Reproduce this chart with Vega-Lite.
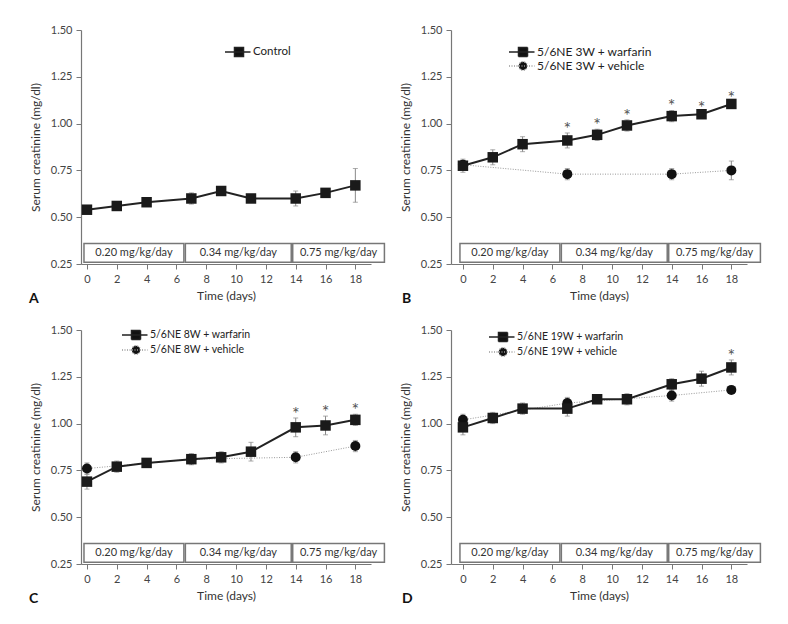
{
  "$schema": "https://vega.github.io/schema/vega-lite/v6.json",
  "background": "white",
  "padding": {"left": 29, "top": 24, "right": 5, "bottom": 5},
  "config": {
    "view": {"stroke": null},
    "font": "Lato",
    "axis": {"domainColor": "#777", "tickColor": "#777", "labelColor": "#444", "titleColor": "#333", "labelFont": "Lato", "titleFont": "Lato", "labelFontSize": 11, "titleFontSize": 12, "titleFontWeight": "normal", "grid": false, "labelPadding": 4, "domainWidth": 1.2, "tickWidth": 1, "tickSize": 5, "labelOverlap": false},
    "axisQuantitative": {"labelOverlap": false},
    "axisY": {"titlePadding": 8},
    "axisX": {"titlePadding": 6},
    "legend": {"title": null, "orient": "none", "symbolSize": 100, "labelOffset": 8, "labelFont": "Lato", "labelColor": "#222", "padding": 0, "symbolOpacity": 1},
    "title": {"font": "Lato", "fontSize": 14, "fontWeight": "bold", "color": "#111"}
  },
  "datasets": {
    "doses": [
      {"start": -0.2, "end": 6.5, "mid": 3.15, "label": "0.20 mg/kg/day"},
      {"start": 6.6, "end": 13.7, "mid": 10.15, "label": "0.34 mg/kg/day"},
      {"start": 13.8, "end": 19.95, "mid": 16.875, "label": "0.75 mg/kg/day"}
    ],
    "pA": [
      {"series": "Control", "kind": "main", "day": 0, "mean": 0.54, "lo": 0.53, "hi": 0.55, "sig": false},
      {"series": "Control", "kind": "main", "day": 2, "mean": 0.56, "lo": 0.55, "hi": 0.57, "sig": false},
      {"series": "Control", "kind": "main", "day": 4, "mean": 0.58, "lo": 0.57, "hi": 0.59, "sig": false},
      {"series": "Control", "kind": "main", "day": 7, "mean": 0.60, "lo": 0.57, "hi": 0.63, "sig": false},
      {"series": "Control", "kind": "main", "day": 9, "mean": 0.64, "lo": 0.63, "hi": 0.65, "sig": false},
      {"series": "Control", "kind": "main", "day": 11, "mean": 0.60, "lo": 0.59, "hi": 0.61, "sig": false},
      {"series": "Control", "kind": "main", "day": 14, "mean": 0.60, "lo": 0.56, "hi": 0.64, "sig": false},
      {"series": "Control", "kind": "main", "day": 16, "mean": 0.63, "lo": 0.62, "hi": 0.64, "sig": false},
      {"series": "Control", "kind": "main", "day": 18, "mean": 0.67, "lo": 0.58, "hi": 0.76, "sig": false}
    ],
    "pB": [
      {"series": "5/6NE 3W + warfarin", "kind": "main", "day": 0, "mean": 0.775, "lo": 0.74, "hi": 0.81, "sig": false},
      {"series": "5/6NE 3W + warfarin", "kind": "main", "day": 2, "mean": 0.82, "lo": 0.78, "hi": 0.86, "sig": false},
      {"series": "5/6NE 3W + warfarin", "kind": "main", "day": 4, "mean": 0.89, "lo": 0.85, "hi": 0.93, "sig": false},
      {"series": "5/6NE 3W + warfarin", "kind": "main", "day": 7, "mean": 0.91, "lo": 0.87, "hi": 0.95, "sig": true},
      {"series": "5/6NE 3W + warfarin", "kind": "main", "day": 9, "mean": 0.94, "lo": 0.91, "hi": 0.97, "sig": true},
      {"series": "5/6NE 3W + warfarin", "kind": "main", "day": 11, "mean": 0.99, "lo": 0.96, "hi": 1.02, "sig": true},
      {"series": "5/6NE 3W + warfarin", "kind": "main", "day": 14, "mean": 1.04, "lo": 1.01, "hi": 1.07, "sig": true},
      {"series": "5/6NE 3W + warfarin", "kind": "main", "day": 16, "mean": 1.05, "lo": 1.04, "hi": 1.06, "sig": true},
      {"series": "5/6NE 3W + warfarin", "kind": "main", "day": 18, "mean": 1.105, "lo": 1.095, "hi": 1.115, "sig": true},
      {"series": "5/6NE 3W + vehicle", "kind": "vehicle", "day": 0, "mean": 0.78, "lo": 0.76, "hi": 0.80, "sig": false},
      {"series": "5/6NE 3W + vehicle", "kind": "vehicle", "day": 7, "mean": 0.73, "lo": 0.70, "hi": 0.76, "sig": false},
      {"series": "5/6NE 3W + vehicle", "kind": "vehicle", "day": 14, "mean": 0.73, "lo": 0.70, "hi": 0.76, "sig": false},
      {"series": "5/6NE 3W + vehicle", "kind": "vehicle", "day": 18, "mean": 0.75, "lo": 0.70, "hi": 0.80, "sig": false}
    ],
    "pC": [
      {"series": "5/6NE 8W + warfarin", "kind": "main", "day": 0, "mean": 0.69, "lo": 0.65, "hi": 0.73, "sig": false},
      {"series": "5/6NE 8W + warfarin", "kind": "main", "day": 2, "mean": 0.77, "lo": 0.74, "hi": 0.80, "sig": false},
      {"series": "5/6NE 8W + warfarin", "kind": "main", "day": 4, "mean": 0.79, "lo": 0.78, "hi": 0.80, "sig": false},
      {"series": "5/6NE 8W + warfarin", "kind": "main", "day": 7, "mean": 0.81, "lo": 0.78, "hi": 0.84, "sig": false},
      {"series": "5/6NE 8W + warfarin", "kind": "main", "day": 9, "mean": 0.82, "lo": 0.79, "hi": 0.85, "sig": false},
      {"series": "5/6NE 8W + warfarin", "kind": "main", "day": 11, "mean": 0.85, "lo": 0.80, "hi": 0.90, "sig": false},
      {"series": "5/6NE 8W + warfarin", "kind": "main", "day": 14, "mean": 0.98, "lo": 0.93, "hi": 1.03, "sig": true},
      {"series": "5/6NE 8W + warfarin", "kind": "main", "day": 16, "mean": 0.99, "lo": 0.94, "hi": 1.04, "sig": true},
      {"series": "5/6NE 8W + warfarin", "kind": "main", "day": 18, "mean": 1.02, "lo": 0.99, "hi": 1.05, "sig": true},
      {"series": "5/6NE 8W + vehicle", "kind": "vehicle", "day": 0, "mean": 0.76, "lo": 0.73, "hi": 0.79, "sig": false},
      {"series": "5/6NE 8W + vehicle", "kind": "vehicle", "day": 7, "mean": 0.81, "lo": 0.79, "hi": 0.83, "sig": false},
      {"series": "5/6NE 8W + vehicle", "kind": "vehicle", "day": 14, "mean": 0.82, "lo": 0.79, "hi": 0.85, "sig": false},
      {"series": "5/6NE 8W + vehicle", "kind": "vehicle", "day": 18, "mean": 0.88, "lo": 0.85, "hi": 0.91, "sig": false}
    ],
    "pD": [
      {"series": "5/6NE 19W + warfarin", "kind": "main", "day": 0, "mean": 0.98, "lo": 0.94, "hi": 1.02, "sig": false},
      {"series": "5/6NE 19W + warfarin", "kind": "main", "day": 2, "mean": 1.03, "lo": 1.00, "hi": 1.06, "sig": false},
      {"series": "5/6NE 19W + warfarin", "kind": "main", "day": 4, "mean": 1.08, "lo": 1.05, "hi": 1.11, "sig": false},
      {"series": "5/6NE 19W + warfarin", "kind": "main", "day": 7, "mean": 1.08, "lo": 1.04, "hi": 1.12, "sig": false},
      {"series": "5/6NE 19W + warfarin", "kind": "main", "day": 9, "mean": 1.13, "lo": 1.12, "hi": 1.14, "sig": false},
      {"series": "5/6NE 19W + warfarin", "kind": "main", "day": 11, "mean": 1.13, "lo": 1.10, "hi": 1.16, "sig": false},
      {"series": "5/6NE 19W + warfarin", "kind": "main", "day": 14, "mean": 1.21, "lo": 1.18, "hi": 1.24, "sig": false},
      {"series": "5/6NE 19W + warfarin", "kind": "main", "day": 16, "mean": 1.24, "lo": 1.20, "hi": 1.28, "sig": false},
      {"series": "5/6NE 19W + warfarin", "kind": "main", "day": 18, "mean": 1.30, "lo": 1.26, "hi": 1.34, "sig": true},
      {"series": "5/6NE 19W + vehicle", "kind": "vehicle", "day": 0, "mean": 1.02, "lo": 0.99, "hi": 1.05, "sig": false},
      {"series": "5/6NE 19W + vehicle", "kind": "vehicle", "day": 7, "mean": 1.11, "lo": 1.08, "hi": 1.14, "sig": false},
      {"series": "5/6NE 19W + vehicle", "kind": "vehicle", "day": 14, "mean": 1.15, "lo": 1.12, "hi": 1.18, "sig": false},
      {"series": "5/6NE 19W + vehicle", "kind": "vehicle", "day": 18, "mean": 1.18, "lo": 1.165, "hi": 1.195, "sig": false}
    ]
  },
  "columns": 2,
  "spacing": {"row": 66, "column": 80},
  "bounds": "flush",
  "resolve": {"scale": {"shape": "independent", "fill": "independent", "stroke": "independent", "strokeDash": "independent"}, "legend": {"shape": "independent", "fill": "independent", "stroke": "independent", "strokeDash": "independent"}},
  "concat": [
    {
      "width": 290, "height": 234,
      "title": {"text": "A", "orient": "bottom", "anchor": "start", "frame": "group", "dx": -52, "offset": -9},
      "layer": [
        {"data": {"name": "doses"}, "mark": {"type": "rect", "fill": "white", "stroke": "#777", "strokeWidth": 1.5, "clip": false},
         "encoding": {
           "x": {"field": "start", "type": "quantitative", "scale": {"domain": [-0.4, 19.05], "nice": false, "zero": false}, "axis": {"title": "Time (days)", "values": [0,2,4,6,8,10,12,14,16,18], "labelOverlap": false, "format": "d"}},
           "x2": {"field": "end"},
           "y": {"datum": 0.26, "type": "quantitative", "scale": {"domain": [0.25, 1.5], "nice": false, "zero": false}, "axis": {"title": "Serum creatinine (mg/dl)", "values": [0.25,0.5,0.75,1,1.25,1.5], "labelOverlap": false, "format": ".2f"}},
           "y2": {"datum": 0.36}}},
        {"data": {"name": "doses"}, "mark": {"type": "text", "fontSize": 11, "fill": "#333", "baseline": "middle"},
         "encoding": {
           "x": {"field": "mid", "type": "quantitative", "scale": {"domain": [-0.4, 19.05], "nice": false, "zero": false}, "axis": {"title": "Time (days)", "values": [0,2,4,6,8,10,12,14,16,18], "labelOverlap": false, "format": "d"}},
           "y": {"datum": 0.31, "type": "quantitative", "scale": {"domain": [0.25, 1.5], "nice": false, "zero": false}, "axis": {"title": "Serum creatinine (mg/dl)", "values": [0.25,0.5,0.75,1,1.25,1.5], "labelOverlap": false, "format": ".2f"}},
           "text": {"field": "label"}}},
        {"data": {"name": "pA"}, "mark": {"type": "errorbar", "ticks": true, "color": "#888"},
         "encoding": {
           "x": {"field": "day", "type": "quantitative", "scale": {"domain": [-0.4, 19.05], "nice": false, "zero": false}, "axis": {"title": "Time (days)", "values": [0,2,4,6,8,10,12,14,16,18], "labelOverlap": false, "format": "d"}},
           "y": {"field": "lo", "type": "quantitative", "scale": {"domain": [0.25, 1.5], "nice": false, "zero": false}, "axis": {"title": "Serum creatinine (mg/dl)", "values": [0.25,0.5,0.75,1,1.25,1.5], "labelOverlap": false, "format": ".2f"}},
           "y2": {"field": "hi"}}},
        {"data": {"name": "pA"}, "mark": {"type": "line", "color": "#222", "strokeWidth": 2},
         "encoding": {
           "x": {"field": "day", "type": "quantitative", "scale": {"domain": [-0.4, 19.05], "nice": false, "zero": false}, "axis": {"title": "Time (days)", "values": [0,2,4,6,8,10,12,14,16,18], "labelOverlap": false, "format": "d"}},
           "y": {"field": "mean", "type": "quantitative", "scale": {"domain": [0.25, 1.5], "nice": false, "zero": false}, "axis": {"title": "Serum creatinine (mg/dl)", "values": [0.25,0.5,0.75,1,1.25,1.5], "labelOverlap": false, "format": ".2f"}}}},
        {"data": {"name": "pA"}, "mark": {"type": "point", "shape": "square", "filled": true, "size": 110, "color": "#1a1a1a", "opacity": 1},
         "encoding": {
           "x": {"field": "day", "type": "quantitative", "scale": {"domain": [-0.4, 19.05], "nice": false, "zero": false}, "axis": {"title": "Time (days)", "values": [0,2,4,6,8,10,12,14,16,18], "labelOverlap": false, "format": "d"}},
           "y": {"field": "mean", "type": "quantitative", "scale": {"domain": [0.25, 1.5], "nice": false, "zero": false}, "axis": {"title": "Serum creatinine (mg/dl)", "values": [0.25,0.5,0.75,1,1.25,1.5], "labelOverlap": false, "format": ".2f"}}}},
        {"data": {"name": "pA"}, "transform": [{"filter": "false"}],
         "mark": {"type": "point", "filled": true, "strokeWidth": 2},
         "encoding": {
           "x": {"field": "day", "type": "quantitative", "scale": {"domain": [-0.4, 19.05], "nice": false, "zero": false}, "axis": {"title": "Time (days)", "values": [0,2,4,6,8,10,12,14,16,18], "labelOverlap": false, "format": "d"}},
           "y": {"field": "mean", "type": "quantitative", "scale": {"domain": [0.25, 1.5], "nice": false, "zero": false}, "axis": {"title": "Serum creatinine (mg/dl)", "values": [0.25,0.5,0.75,1,1.25,1.5], "labelOverlap": false, "format": ".2f"}},
           "shape": {"field": "series", "type": "nominal", "scale": {"domain": ["Control"], "range": ["M-2.8,0H2.3M-0.9,-0.9H0.9V0.9H-0.9Z"]},
             "legend": {"legendX": 152, "legendY": 16, "labelFontSize": 11.5, "rowPadding": 1}},
           "fill": {"field": "series", "type": "nominal", "scale": {"domain": ["Control"], "range": ["#111"]}},
           "stroke": {"field": "series", "type": "nominal", "scale": {"domain": ["Control"], "range": ["#222"]}}}}
      ]
    },
    {
      "width": 296, "height": 234,
      "title": {"text": "B", "orient": "bottom", "anchor": "start", "frame": "group", "dx": -49, "offset": -9},
      "layer": [
        {"data": {"name": "doses"}, "mark": {"type": "rect", "fill": "white", "stroke": "#777", "strokeWidth": 1.5, "clip": false},
         "encoding": {
           "x": {"field": "start", "type": "quantitative", "scale": {"domain": [-0.8, 19.05], "nice": false, "zero": false}, "axis": {"title": "Time (days)", "values": [0,2,4,6,8,10,12,14,16,18], "labelOverlap": false, "format": "d"}},
           "x2": {"field": "end"},
           "y": {"datum": 0.26, "type": "quantitative", "scale": {"domain": [0.25, 1.5], "nice": false, "zero": false}, "axis": {"title": "Serum creatinine (mg/dl)", "values": [0.25,0.5,0.75,1,1.25,1.5], "labelOverlap": false, "format": ".2f"}},
           "y2": {"datum": 0.36}}},
        {"data": {"name": "doses"}, "mark": {"type": "text", "fontSize": 11, "fill": "#333", "baseline": "middle"},
         "encoding": {
           "x": {"field": "mid", "type": "quantitative", "scale": {"domain": [-0.8, 19.05], "nice": false, "zero": false}, "axis": {"title": "Time (days)", "values": [0,2,4,6,8,10,12,14,16,18], "labelOverlap": false, "format": "d"}},
           "y": {"datum": 0.31, "type": "quantitative", "scale": {"domain": [0.25, 1.5], "nice": false, "zero": false}, "axis": {"title": "Serum creatinine (mg/dl)", "values": [0.25,0.5,0.75,1,1.25,1.5], "labelOverlap": false, "format": ".2f"}},
           "text": {"field": "label"}}},
        {"data": {"name": "pB"}, "mark": {"type": "errorbar", "ticks": true, "color": "#888"},
         "encoding": {
           "x": {"field": "day", "type": "quantitative", "scale": {"domain": [-0.8, 19.05], "nice": false, "zero": false}, "axis": {"title": "Time (days)", "values": [0,2,4,6,8,10,12,14,16,18], "labelOverlap": false, "format": "d"}},
           "y": {"field": "lo", "type": "quantitative", "scale": {"domain": [0.25, 1.5], "nice": false, "zero": false}, "axis": {"title": "Serum creatinine (mg/dl)", "values": [0.25,0.5,0.75,1,1.25,1.5], "labelOverlap": false, "format": ".2f"}},
           "y2": {"field": "hi"}}},
        {"data": {"name": "pB"}, "transform": [{"filter": "datum.kind == 'vehicle'"}], "mark": {"type": "line", "color": "#999", "strokeWidth": 1, "strokeDash": [1, 1.5]},
         "encoding": {
           "x": {"field": "day", "type": "quantitative", "scale": {"domain": [-0.8, 19.05], "nice": false, "zero": false}, "axis": {"title": "Time (days)", "values": [0,2,4,6,8,10,12,14,16,18], "labelOverlap": false, "format": "d"}},
           "y": {"field": "mean", "type": "quantitative", "scale": {"domain": [0.25, 1.5], "nice": false, "zero": false}, "axis": {"title": "Serum creatinine (mg/dl)", "values": [0.25,0.5,0.75,1,1.25,1.5], "labelOverlap": false, "format": ".2f"}}}},
        {"data": {"name": "pB"}, "transform": [{"filter": "datum.kind == 'vehicle'"}],
         "mark": {"type": "point", "shape": "circle", "filled": true, "size": 100, "color": "#111", "opacity": 1},
         "encoding": {
           "x": {"field": "day", "type": "quantitative", "scale": {"domain": [-0.8, 19.05], "nice": false, "zero": false}, "axis": {"title": "Time (days)", "values": [0,2,4,6,8,10,12,14,16,18], "labelOverlap": false, "format": "d"}},
           "y": {"field": "mean", "type": "quantitative", "scale": {"domain": [0.25, 1.5], "nice": false, "zero": false}, "axis": {"title": "Serum creatinine (mg/dl)", "values": [0.25,0.5,0.75,1,1.25,1.5], "labelOverlap": false, "format": ".2f"}}}},
        {"data": {"name": "pB"}, "transform": [{"filter": "datum.kind == 'main'"}], "mark": {"type": "line", "color": "#222", "strokeWidth": 2},
         "encoding": {
           "x": {"field": "day", "type": "quantitative", "scale": {"domain": [-0.8, 19.05], "nice": false, "zero": false}, "axis": {"title": "Time (days)", "values": [0,2,4,6,8,10,12,14,16,18], "labelOverlap": false, "format": "d"}},
           "y": {"field": "mean", "type": "quantitative", "scale": {"domain": [0.25, 1.5], "nice": false, "zero": false}, "axis": {"title": "Serum creatinine (mg/dl)", "values": [0.25,0.5,0.75,1,1.25,1.5], "labelOverlap": false, "format": ".2f"}}}},
        {"data": {"name": "pB"}, "transform": [{"filter": "datum.kind == 'main'"}],
         "mark": {"type": "point", "shape": "square", "filled": true, "size": 110, "color": "#1a1a1a", "opacity": 1},
         "encoding": {
           "x": {"field": "day", "type": "quantitative", "scale": {"domain": [-0.8, 19.05], "nice": false, "zero": false}, "axis": {"title": "Time (days)", "values": [0,2,4,6,8,10,12,14,16,18], "labelOverlap": false, "format": "d"}},
           "y": {"field": "mean", "type": "quantitative", "scale": {"domain": [0.25, 1.5], "nice": false, "zero": false}, "axis": {"title": "Serum creatinine (mg/dl)", "values": [0.25,0.5,0.75,1,1.25,1.5], "labelOverlap": false, "format": ".2f"}}}},
        {"data": {"name": "pB"}, "transform": [{"filter": "datum.sig"}],
         "mark": {"type": "text", "text": "*", "fontSize": 18, "fill": "#555", "baseline": "alphabetic", "dy": 2},
         "encoding": {
           "x": {"field": "day", "type": "quantitative", "scale": {"domain": [-0.8, 19.05], "nice": false, "zero": false}, "axis": {"title": "Time (days)", "values": [0,2,4,6,8,10,12,14,16,18], "labelOverlap": false, "format": "d"}},
           "y": {"field": "hi", "type": "quantitative", "scale": {"domain": [0.25, 1.5], "nice": false, "zero": false}, "axis": {"title": "Serum creatinine (mg/dl)", "values": [0.25,0.5,0.75,1,1.25,1.5], "labelOverlap": false, "format": ".2f"}}}},
        {"data": {"name": "pB"}, "transform": [{"filter": "false"}],
         "mark": {"type": "point", "filled": true, "strokeWidth": 1.5},
         "encoding": {
           "x": {"field": "day", "type": "quantitative", "scale": {"domain": [-0.8, 19.05], "nice": false, "zero": false}, "axis": {"title": "Time (days)", "values": [0,2,4,6,8,10,12,14,16,18], "labelOverlap": false, "format": "d"}},
           "y": {"field": "mean", "type": "quantitative", "scale": {"domain": [0.25, 1.5], "nice": false, "zero": false}, "axis": {"title": "Serum creatinine (mg/dl)", "values": [0.25,0.5,0.75,1,1.25,1.5], "labelOverlap": false, "format": ".2f"}},
           "shape": {"field": "series", "type": "nominal", "scale": {"domain": ["5/6NE 3W + warfarin", "5/6NE 3W + vehicle"], "range": ["M-2.8,0H2.3M-0.9,-0.9H0.9V0.9H-0.9Z", "M-2.8,0H2.3M-0.84,0A0.84,0.84 0 1,1 0.84,0A0.84,0.84 0 1,1 -0.84,0Z"]},
             "legend": {"legendX": 66, "legendY": 16, "labelFontSize": 12, "rowPadding": -3}},
           "fill": {"field": "series", "type": "nominal", "scale": {"domain": ["5/6NE 3W + warfarin", "5/6NE 3W + vehicle"], "range": ["#111", "#111"]}},
           "stroke": {"field": "series", "type": "nominal", "scale": {"domain": ["5/6NE 3W + warfarin", "5/6NE 3W + vehicle"], "range": ["#222", "#999"]}},
           "strokeDash": {"field": "series", "type": "nominal", "scale": {"domain": ["5/6NE 3W + warfarin", "5/6NE 3W + vehicle"], "range": [[1, 0], [1, 1.5]]}}}}
      ]
    },
    {
      "width": 290, "height": 234,
      "title": {"text": "C", "orient": "bottom", "anchor": "start", "frame": "group", "dx": -52, "offset": -9},
      "layer": [
        {"data": {"name": "doses"}, "mark": {"type": "rect", "fill": "white", "stroke": "#777", "strokeWidth": 1.5, "clip": false},
         "encoding": {
           "x": {"field": "start", "type": "quantitative", "scale": {"domain": [-0.4, 19.05], "nice": false, "zero": false}, "axis": {"title": "Time (days)", "values": [0,2,4,6,8,10,12,14,16,18], "labelOverlap": false, "format": "d"}},
           "x2": {"field": "end"},
           "y": {"datum": 0.26, "type": "quantitative", "scale": {"domain": [0.25, 1.5], "nice": false, "zero": false}, "axis": {"title": "Serum creatinine (mg/dl)", "values": [0.25,0.5,0.75,1,1.25,1.5], "labelOverlap": false, "format": ".2f"}},
           "y2": {"datum": 0.36}}},
        {"data": {"name": "doses"}, "mark": {"type": "text", "fontSize": 11, "fill": "#333", "baseline": "middle"},
         "encoding": {
           "x": {"field": "mid", "type": "quantitative", "scale": {"domain": [-0.4, 19.05], "nice": false, "zero": false}, "axis": {"title": "Time (days)", "values": [0,2,4,6,8,10,12,14,16,18], "labelOverlap": false, "format": "d"}},
           "y": {"datum": 0.31, "type": "quantitative", "scale": {"domain": [0.25, 1.5], "nice": false, "zero": false}, "axis": {"title": "Serum creatinine (mg/dl)", "values": [0.25,0.5,0.75,1,1.25,1.5], "labelOverlap": false, "format": ".2f"}},
           "text": {"field": "label"}}},
        {"data": {"name": "pC"}, "mark": {"type": "errorbar", "ticks": true, "color": "#888"},
         "encoding": {
           "x": {"field": "day", "type": "quantitative", "scale": {"domain": [-0.4, 19.05], "nice": false, "zero": false}, "axis": {"title": "Time (days)", "values": [0,2,4,6,8,10,12,14,16,18], "labelOverlap": false, "format": "d"}},
           "y": {"field": "lo", "type": "quantitative", "scale": {"domain": [0.25, 1.5], "nice": false, "zero": false}, "axis": {"title": "Serum creatinine (mg/dl)", "values": [0.25,0.5,0.75,1,1.25,1.5], "labelOverlap": false, "format": ".2f"}},
           "y2": {"field": "hi"}}},
        {"data": {"name": "pC"}, "transform": [{"filter": "datum.kind == 'vehicle'"}], "mark": {"type": "line", "color": "#999", "strokeWidth": 1, "strokeDash": [1, 1.5]},
         "encoding": {
           "x": {"field": "day", "type": "quantitative", "scale": {"domain": [-0.4, 19.05], "nice": false, "zero": false}, "axis": {"title": "Time (days)", "values": [0,2,4,6,8,10,12,14,16,18], "labelOverlap": false, "format": "d"}},
           "y": {"field": "mean", "type": "quantitative", "scale": {"domain": [0.25, 1.5], "nice": false, "zero": false}, "axis": {"title": "Serum creatinine (mg/dl)", "values": [0.25,0.5,0.75,1,1.25,1.5], "labelOverlap": false, "format": ".2f"}}}},
        {"data": {"name": "pC"}, "transform": [{"filter": "datum.kind == 'vehicle'"}],
         "mark": {"type": "point", "shape": "circle", "filled": true, "size": 100, "color": "#111", "opacity": 1},
         "encoding": {
           "x": {"field": "day", "type": "quantitative", "scale": {"domain": [-0.4, 19.05], "nice": false, "zero": false}, "axis": {"title": "Time (days)", "values": [0,2,4,6,8,10,12,14,16,18], "labelOverlap": false, "format": "d"}},
           "y": {"field": "mean", "type": "quantitative", "scale": {"domain": [0.25, 1.5], "nice": false, "zero": false}, "axis": {"title": "Serum creatinine (mg/dl)", "values": [0.25,0.5,0.75,1,1.25,1.5], "labelOverlap": false, "format": ".2f"}}}},
        {"data": {"name": "pC"}, "transform": [{"filter": "datum.kind == 'main'"}], "mark": {"type": "line", "color": "#222", "strokeWidth": 2},
         "encoding": {
           "x": {"field": "day", "type": "quantitative", "scale": {"domain": [-0.4, 19.05], "nice": false, "zero": false}, "axis": {"title": "Time (days)", "values": [0,2,4,6,8,10,12,14,16,18], "labelOverlap": false, "format": "d"}},
           "y": {"field": "mean", "type": "quantitative", "scale": {"domain": [0.25, 1.5], "nice": false, "zero": false}, "axis": {"title": "Serum creatinine (mg/dl)", "values": [0.25,0.5,0.75,1,1.25,1.5], "labelOverlap": false, "format": ".2f"}}}},
        {"data": {"name": "pC"}, "transform": [{"filter": "datum.kind == 'main'"}],
         "mark": {"type": "point", "shape": "square", "filled": true, "size": 110, "color": "#1a1a1a", "opacity": 1},
         "encoding": {
           "x": {"field": "day", "type": "quantitative", "scale": {"domain": [-0.4, 19.05], "nice": false, "zero": false}, "axis": {"title": "Time (days)", "values": [0,2,4,6,8,10,12,14,16,18], "labelOverlap": false, "format": "d"}},
           "y": {"field": "mean", "type": "quantitative", "scale": {"domain": [0.25, 1.5], "nice": false, "zero": false}, "axis": {"title": "Serum creatinine (mg/dl)", "values": [0.25,0.5,0.75,1,1.25,1.5], "labelOverlap": false, "format": ".2f"}}}},
        {"data": {"name": "pC"}, "transform": [{"filter": "datum.sig"}],
         "mark": {"type": "text", "text": "*", "fontSize": 18, "fill": "#555", "baseline": "alphabetic", "dy": 2},
         "encoding": {
           "x": {"field": "day", "type": "quantitative", "scale": {"domain": [-0.4, 19.05], "nice": false, "zero": false}, "axis": {"title": "Time (days)", "values": [0,2,4,6,8,10,12,14,16,18], "labelOverlap": false, "format": "d"}},
           "y": {"field": "hi", "type": "quantitative", "scale": {"domain": [0.25, 1.5], "nice": false, "zero": false}, "axis": {"title": "Serum creatinine (mg/dl)", "values": [0.25,0.5,0.75,1,1.25,1.5], "labelOverlap": false, "format": ".2f"}}}},
        {"data": {"name": "pC"}, "transform": [{"filter": "false"}],
         "mark": {"type": "point", "filled": true, "strokeWidth": 1.5},
         "encoding": {
           "x": {"field": "day", "type": "quantitative", "scale": {"domain": [-0.4, 19.05], "nice": false, "zero": false}, "axis": {"title": "Time (days)", "values": [0,2,4,6,8,10,12,14,16,18], "labelOverlap": false, "format": "d"}},
           "y": {"field": "mean", "type": "quantitative", "scale": {"domain": [0.25, 1.5], "nice": false, "zero": false}, "axis": {"title": "Serum creatinine (mg/dl)", "values": [0.25,0.5,0.75,1,1.25,1.5], "labelOverlap": false, "format": ".2f"}},
           "shape": {"field": "series", "type": "nominal", "scale": {"domain": ["5/6NE 8W + warfarin", "5/6NE 8W + vehicle"], "range": ["M-2.8,0H2.3M-0.9,-0.9H0.9V0.9H-0.9Z", "M-2.8,0H2.3M-0.84,0A0.84,0.84 0 1,1 0.84,0A0.84,0.84 0 1,1 -0.84,0Z"]},
             "legend": {"legendX": 49, "legendY": -1, "labelFontSize": 10.5, "rowPadding": -1}},
           "fill": {"field": "series", "type": "nominal", "scale": {"domain": ["5/6NE 8W + warfarin", "5/6NE 8W + vehicle"], "range": ["#111", "#111"]}},
           "stroke": {"field": "series", "type": "nominal", "scale": {"domain": ["5/6NE 8W + warfarin", "5/6NE 8W + vehicle"], "range": ["#222", "#999"]}},
           "strokeDash": {"field": "series", "type": "nominal", "scale": {"domain": ["5/6NE 8W + warfarin", "5/6NE 8W + vehicle"], "range": [[1, 0], [1, 1.5]]}}}}
      ]
    },
    {
      "width": 296, "height": 234,
      "title": {"text": "D", "orient": "bottom", "anchor": "start", "frame": "group", "dx": -49, "offset": -9},
      "layer": [
        {"data": {"name": "doses"}, "mark": {"type": "rect", "fill": "white", "stroke": "#777", "strokeWidth": 1.5, "clip": false},
         "encoding": {
           "x": {"field": "start", "type": "quantitative", "scale": {"domain": [-0.8, 19.05], "nice": false, "zero": false}, "axis": {"title": "Time (days)", "values": [0,2,4,6,8,10,12,14,16,18], "labelOverlap": false, "format": "d"}},
           "x2": {"field": "end"},
           "y": {"datum": 0.26, "type": "quantitative", "scale": {"domain": [0.25, 1.5], "nice": false, "zero": false}, "axis": {"title": "Serum creatinine (mg/dl)", "values": [0.25,0.5,0.75,1,1.25,1.5], "labelOverlap": false, "format": ".2f"}},
           "y2": {"datum": 0.36}}},
        {"data": {"name": "doses"}, "mark": {"type": "text", "fontSize": 11, "fill": "#333", "baseline": "middle"},
         "encoding": {
           "x": {"field": "mid", "type": "quantitative", "scale": {"domain": [-0.8, 19.05], "nice": false, "zero": false}, "axis": {"title": "Time (days)", "values": [0,2,4,6,8,10,12,14,16,18], "labelOverlap": false, "format": "d"}},
           "y": {"datum": 0.31, "type": "quantitative", "scale": {"domain": [0.25, 1.5], "nice": false, "zero": false}, "axis": {"title": "Serum creatinine (mg/dl)", "values": [0.25,0.5,0.75,1,1.25,1.5], "labelOverlap": false, "format": ".2f"}},
           "text": {"field": "label"}}},
        {"data": {"name": "pD"}, "mark": {"type": "errorbar", "ticks": true, "color": "#888"},
         "encoding": {
           "x": {"field": "day", "type": "quantitative", "scale": {"domain": [-0.8, 19.05], "nice": false, "zero": false}, "axis": {"title": "Time (days)", "values": [0,2,4,6,8,10,12,14,16,18], "labelOverlap": false, "format": "d"}},
           "y": {"field": "lo", "type": "quantitative", "scale": {"domain": [0.25, 1.5], "nice": false, "zero": false}, "axis": {"title": "Serum creatinine (mg/dl)", "values": [0.25,0.5,0.75,1,1.25,1.5], "labelOverlap": false, "format": ".2f"}},
           "y2": {"field": "hi"}}},
        {"data": {"name": "pD"}, "transform": [{"filter": "datum.kind == 'vehicle'"}], "mark": {"type": "line", "color": "#999", "strokeWidth": 1, "strokeDash": [1, 1.5]},
         "encoding": {
           "x": {"field": "day", "type": "quantitative", "scale": {"domain": [-0.8, 19.05], "nice": false, "zero": false}, "axis": {"title": "Time (days)", "values": [0,2,4,6,8,10,12,14,16,18], "labelOverlap": false, "format": "d"}},
           "y": {"field": "mean", "type": "quantitative", "scale": {"domain": [0.25, 1.5], "nice": false, "zero": false}, "axis": {"title": "Serum creatinine (mg/dl)", "values": [0.25,0.5,0.75,1,1.25,1.5], "labelOverlap": false, "format": ".2f"}}}},
        {"data": {"name": "pD"}, "transform": [{"filter": "datum.kind == 'vehicle'"}],
         "mark": {"type": "point", "shape": "circle", "filled": true, "size": 100, "color": "#111", "opacity": 1},
         "encoding": {
           "x": {"field": "day", "type": "quantitative", "scale": {"domain": [-0.8, 19.05], "nice": false, "zero": false}, "axis": {"title": "Time (days)", "values": [0,2,4,6,8,10,12,14,16,18], "labelOverlap": false, "format": "d"}},
           "y": {"field": "mean", "type": "quantitative", "scale": {"domain": [0.25, 1.5], "nice": false, "zero": false}, "axis": {"title": "Serum creatinine (mg/dl)", "values": [0.25,0.5,0.75,1,1.25,1.5], "labelOverlap": false, "format": ".2f"}}}},
        {"data": {"name": "pD"}, "transform": [{"filter": "datum.kind == 'main'"}], "mark": {"type": "line", "color": "#222", "strokeWidth": 2},
         "encoding": {
           "x": {"field": "day", "type": "quantitative", "scale": {"domain": [-0.8, 19.05], "nice": false, "zero": false}, "axis": {"title": "Time (days)", "values": [0,2,4,6,8,10,12,14,16,18], "labelOverlap": false, "format": "d"}},
           "y": {"field": "mean", "type": "quantitative", "scale": {"domain": [0.25, 1.5], "nice": false, "zero": false}, "axis": {"title": "Serum creatinine (mg/dl)", "values": [0.25,0.5,0.75,1,1.25,1.5], "labelOverlap": false, "format": ".2f"}}}},
        {"data": {"name": "pD"}, "transform": [{"filter": "datum.kind == 'main'"}],
         "mark": {"type": "point", "shape": "square", "filled": true, "size": 110, "color": "#1a1a1a", "opacity": 1},
         "encoding": {
           "x": {"field": "day", "type": "quantitative", "scale": {"domain": [-0.8, 19.05], "nice": false, "zero": false}, "axis": {"title": "Time (days)", "values": [0,2,4,6,8,10,12,14,16,18], "labelOverlap": false, "format": "d"}},
           "y": {"field": "mean", "type": "quantitative", "scale": {"domain": [0.25, 1.5], "nice": false, "zero": false}, "axis": {"title": "Serum creatinine (mg/dl)", "values": [0.25,0.5,0.75,1,1.25,1.5], "labelOverlap": false, "format": ".2f"}}}},
        {"data": {"name": "pD"}, "transform": [{"filter": "datum.sig"}],
         "mark": {"type": "text", "text": "*", "fontSize": 18, "fill": "#555", "baseline": "alphabetic", "dy": 2},
         "encoding": {
           "x": {"field": "day", "type": "quantitative", "scale": {"domain": [-0.8, 19.05], "nice": false, "zero": false}, "axis": {"title": "Time (days)", "values": [0,2,4,6,8,10,12,14,16,18], "labelOverlap": false, "format": "d"}},
           "y": {"field": "hi", "type": "quantitative", "scale": {"domain": [0.25, 1.5], "nice": false, "zero": false}, "axis": {"title": "Serum creatinine (mg/dl)", "values": [0.25,0.5,0.75,1,1.25,1.5], "labelOverlap": false, "format": ".2f"}}}},
        {"data": {"name": "pD"}, "transform": [{"filter": "false"}],
         "mark": {"type": "point", "filled": true, "strokeWidth": 1.5},
         "encoding": {
           "x": {"field": "day", "type": "quantitative", "scale": {"domain": [-0.8, 19.05], "nice": false, "zero": false}, "axis": {"title": "Time (days)", "values": [0,2,4,6,8,10,12,14,16,18], "labelOverlap": false, "format": "d"}},
           "y": {"field": "mean", "type": "quantitative", "scale": {"domain": [0.25, 1.5], "nice": false, "zero": false}, "axis": {"title": "Serum creatinine (mg/dl)", "values": [0.25,0.5,0.75,1,1.25,1.5], "labelOverlap": false, "format": ".2f"}},
           "shape": {"field": "series", "type": "nominal", "scale": {"domain": ["5/6NE 19W + warfarin", "5/6NE 19W + vehicle"], "range": ["M-2.8,0H2.3M-0.9,-0.9H0.9V0.9H-0.9Z", "M-2.8,0H2.3M-0.84,0A0.84,0.84 0 1,1 0.84,0A0.84,0.84 0 1,1 -0.84,0Z"]},
             "legend": {"legendX": 46, "legendY": 1, "labelFontSize": 10.5, "rowPadding": -1}},
           "fill": {"field": "series", "type": "nominal", "scale": {"domain": ["5/6NE 19W + warfarin", "5/6NE 19W + vehicle"], "range": ["#111", "#111"]}},
           "stroke": {"field": "series", "type": "nominal", "scale": {"domain": ["5/6NE 19W + warfarin", "5/6NE 19W + vehicle"], "range": ["#222", "#999"]}},
           "strokeDash": {"field": "series", "type": "nominal", "scale": {"domain": ["5/6NE 19W + warfarin", "5/6NE 19W + vehicle"], "range": [[1, 0], [1, 1.5]]}}}}
      ]
    }
  ]
}
